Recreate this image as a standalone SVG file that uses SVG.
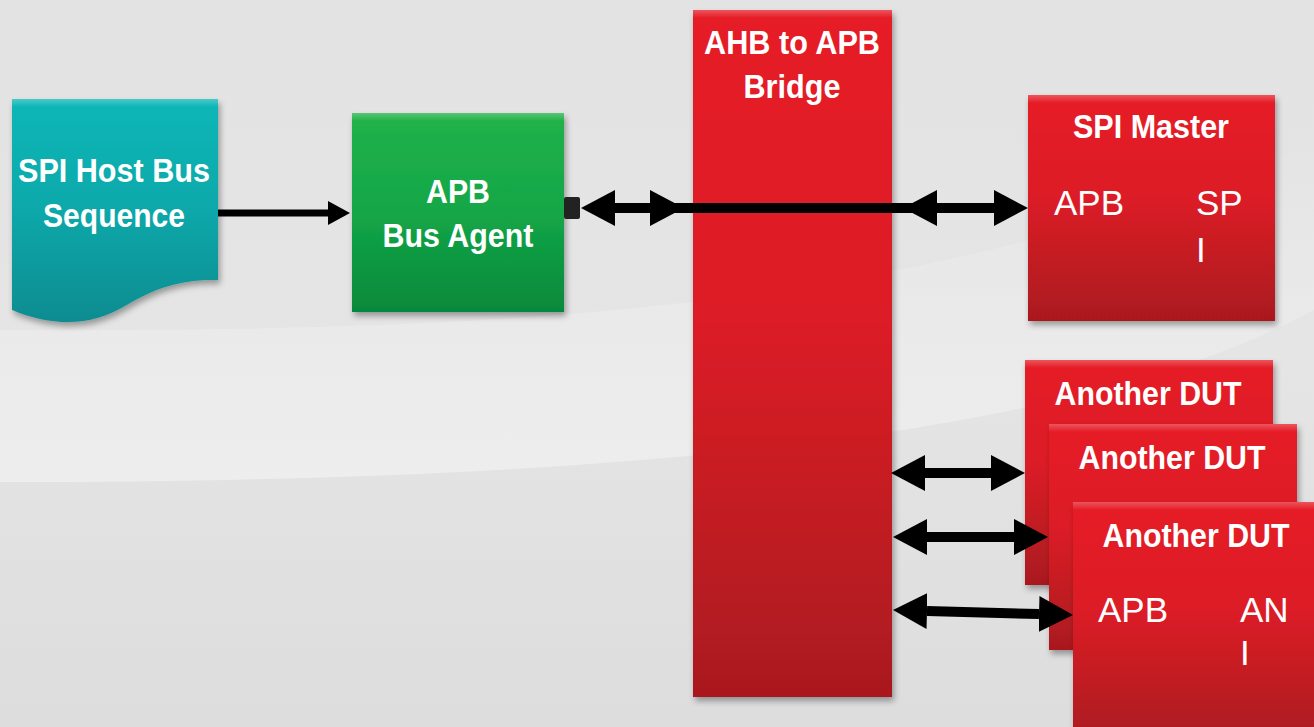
<svg xmlns="http://www.w3.org/2000/svg" width="1314" height="727" viewBox="0 0 1314 727">
  <defs>
    <linearGradient id="bg" x1="0" y1="0" x2="0" y2="1">
      <stop offset="0" stop-color="#e3e3e3"/>
      <stop offset="0.5" stop-color="#e5e5e5"/>
      <stop offset="1" stop-color="#dddddd"/>
    </linearGradient>
    <linearGradient id="swoosh" x1="0" y1="0" x2="0" y2="1">
      <stop offset="0" stop-color="#f0f0f0" stop-opacity="0"/>
      <stop offset="0.7" stop-color="#eeeeee" stop-opacity="0.7"/>
      <stop offset="1" stop-color="#efefef" stop-opacity="0.9"/>
    </linearGradient>
    <linearGradient id="red" x1="0" y1="0" x2="0" y2="1">
      <stop offset="0" stop-color="#e61f27"/>
      <stop offset="0.45" stop-color="#dc1f26"/>
      <stop offset="1" stop-color="#a9191f"/>
    </linearGradient>
    <linearGradient id="green" x1="0" y1="0" x2="0" y2="1">
      <stop offset="0" stop-color="#22b24a"/>
      <stop offset="0.5" stop-color="#14a647"/>
      <stop offset="1" stop-color="#06893c"/>
    </linearGradient>
    <linearGradient id="teal" x1="0" y1="0" x2="0" y2="1">
      <stop offset="0" stop-color="#0db7b7"/>
      <stop offset="0.5" stop-color="#10a8aa"/>
      <stop offset="1" stop-color="#0e8c90"/>
    </linearGradient>
    <linearGradient id="hlg" x1="0" y1="0" x2="0" y2="1">
      <stop offset="0" stop-color="#fff" stop-opacity="0.25"/>
      <stop offset="1" stop-color="#fff" stop-opacity="0"/>
    </linearGradient>
    <filter id="shadow" x="-10%" y="-10%" width="130%" height="130%">
      <feDropShadow dx="2" dy="4" stdDeviation="3" flood-color="#000" flood-opacity="0.35"/>
    </filter>
    <marker id="ah" markerUnits="userSpaceOnUse" markerWidth="34" markerHeight="36" refX="0" refY="18" orient="auto-start-reverse">
      <path d="M0,0 L34,18 L0,36 Z" fill="#000"/>
    </marker>
    <marker id="ahs" markerUnits="userSpaceOnUse" markerWidth="22" markerHeight="24" refX="0" refY="12" orient="auto">
      <path d="M0,0 L22,12 L0,24 Z" fill="#000"/>
    </marker>
    <style>
      .bold { font-family: "Liberation Sans Narrow", "Liberation Sans", Arial, sans-serif; font-weight: bold; font-size: 34px; fill: #fff; text-anchor: middle; }
      .reg { font-family: "Liberation Sans", Arial, sans-serif; font-size: 35px; fill: #fff; }
      .box { filter: url(#shadow); }
      .conn { stroke: #000; stroke-width: 10; fill: none; }
      .hl { fill: url(#hlg); }
    </style>
  </defs>

  <!-- background -->
  <rect x="0" y="0" width="1314" height="727" fill="url(#bg)"/>
  <path d="M0,330 C 400,330 900,330 1314,140 L1314,310 C 1100,425 700,482 0,482 Z" fill="url(#swoosh)"/>

  <!-- nodes -->
  <g id="host-seq">
    <path class="box" d="M12,99 H218 V280 C 178,279 152,290 125,306 C 95,324 58,329 12,310 Z" fill="url(#teal)"/>
    <rect class="hl" x="12" y="99" width="206" height="8"/>
    <text class="bold" x="114" y="182" textLength="192" lengthAdjust="spacingAndGlyphs">SPI Host Bus</text>
    <text class="bold" x="114" y="227" textLength="142" lengthAdjust="spacingAndGlyphs">Sequence</text>
  </g>

  <g id="apb-agent">
    <rect class="box" x="352" y="113" width="212" height="199" fill="url(#green)"/>
    <rect class="hl" x="352" y="113" width="212" height="8"/>
    <text class="bold" x="458" y="203" textLength="64" lengthAdjust="spacingAndGlyphs">APB</text>
    <text class="bold" x="458" y="247" textLength="151" lengthAdjust="spacingAndGlyphs">Bus Agent</text>
    <rect x="564" y="197" width="16" height="22" rx="2" fill="#222"/>
  </g>

  <g id="bridge">
    <rect class="box" x="693" y="10" width="199" height="687" fill="url(#red)"/>
    <rect class="hl" x="693" y="10" width="199" height="8"/>
    <text class="bold" x="792" y="54" textLength="176" lengthAdjust="spacingAndGlyphs">AHB to APB</text>
    <text class="bold" x="792" y="98" textLength="97" lengthAdjust="spacingAndGlyphs">Bridge</text>
  </g>

  <g id="spi-master">
    <rect class="box" x="1028" y="95" width="247" height="226" fill="url(#red)"/>
    <rect class="hl" x="1028" y="95" width="247" height="8"/>
    <text class="bold" x="1151" y="138" textLength="156" lengthAdjust="spacingAndGlyphs">SPI Master</text>
    <text class="reg" x="1054" y="215">APB</text>
    <text class="reg" x="1196" y="215">SP</text>
    <text class="reg" x="1196" y="262">I</text>
  </g>

  <g id="dut1">
    <rect class="box" x="1025" y="360" width="248" height="225" fill="url(#red)"/>
    <rect class="hl" x="1025" y="360" width="248" height="8"/>
    <text class="bold" x="1148" y="405" textLength="187" lengthAdjust="spacingAndGlyphs">Another DUT</text>
  </g>

  <g id="dut2">
    <rect class="box" x="1049" y="424" width="248" height="226" fill="url(#red)"/>
    <rect class="hl" x="1049" y="424" width="248" height="8"/>
    <text class="bold" x="1172" y="469" textLength="187" lengthAdjust="spacingAndGlyphs">Another DUT</text>
  </g>

  <g id="dut3">
    <rect class="box" x="1073" y="502" width="260" height="240" fill="url(#red)"/>
    <rect class="hl" x="1073" y="502" width="260" height="8"/>
    <text class="bold" x="1196" y="547" textLength="187" lengthAdjust="spacingAndGlyphs">Another DUT</text>
    <text class="reg" x="1098" y="622">APB</text>
    <text class="reg" x="1240" y="622">AN</text>
    <text class="reg" x="1240" y="665">I</text>
  </g>

  <!-- connectors -->
  <g id="connectors">
    <line x1="218" y1="213" x2="328" y2="213" stroke="#000" stroke-width="7" marker-end="url(#ahs)"/>
    <line class="conn" x1="615" y1="208" x2="650" y2="208" marker-start="url(#ah)" marker-end="url(#ah)"/>
    <line class="conn" x1="650" y1="208" x2="937" y2="208"/>
    <line class="conn" x1="937" y1="208" x2="994" y2="208" marker-start="url(#ah)" marker-end="url(#ah)"/>
    <line class="conn" x1="925" y1="473" x2="991" y2="473" marker-start="url(#ah)" marker-end="url(#ah)"/>
    <line class="conn" x1="927" y1="537" x2="1014" y2="537" marker-start="url(#ah)" marker-end="url(#ah)"/>
    <line class="conn" x1="927" y1="611" x2="1039" y2="614" marker-start="url(#ah)" marker-end="url(#ah)"/>
  </g>
</svg>
